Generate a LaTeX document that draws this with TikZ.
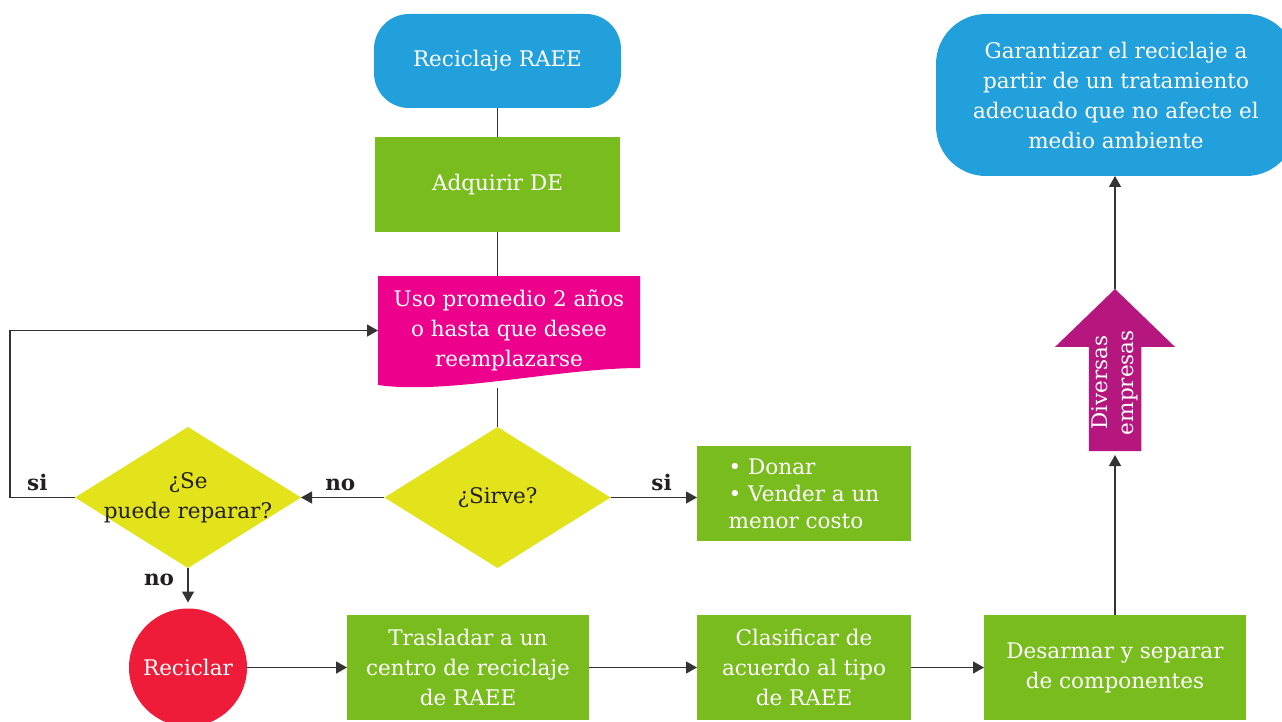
\documentclass[tikz,border=0pt]{standalone}
\usepackage{fontspec}
\setmainfont{DejaVu Serif}
\usepackage{tikz}
\tikzset{
  every node/.style = {
    inner sep = 0pt,
    outer sep = 0pt
  }
}
\usetikzlibrary{
arrows.meta,
backgrounds,
calc,
shapes.arrows,
shapes.geometric
}
\definecolor{raeeblue}{HTML}{22A0DB}
\definecolor{raeegreen}{HTML}{78BC1E}
\definecolor{raeepink}{HTML}{EC008C}
\definecolor{raeeyellow}{HTML}{E3E31C}
\definecolor{raeered}{HTML}{EE1C39}
\definecolor{raeepurple}{HTML}{B5177F}
\definecolor{raeeline}{HTML}{333333}
\definecolor{raeetext}{HTML}{231F20}

\begin{document}
\begin{tikzpicture}[
        x = 1pt,
        y = -1pt,
        every node/.append style = {
          font = \fontsize{21.5}{30}\selectfont,
          align = center,
        },
        start/.style = {
          rounded corners = 35pt,
          fill = raeeblue,
          text = white,
        },
        task/.style = {
          fill = raeegreen,
          text = white,
        },
        decision/.style = {
          diamond,
          fill = raeeyellow,
          text = raeetext,
          minimum width = 226,
          minimum height = 141,
        },
        link/.style = {
          line width = 1.3pt,
          draw = raeeline,
        },
        arrow/.style = {
          link,
          -{Triangle[length=11pt, width=12pt]},
        },
        answer/.style = {
          font = \fontsize{21.5}{25}\selectfont\bfseries,
          text = raeetext,
        },
        ]
        \useasboundingbox (0,0) rectangle (1282,722);
        \node [start, minimum width=247, minimum height=94] (raee) at (497.5,61)
        {Reciclaje RAEE};
        \node [task, minimum width=245, minimum height=95] (adquirir) at (497.5,184.5)
        {Adquirir DE};
        \node [text=white, minimum width=262, minimum height=109] (uso) at (509,330.5)
        {Uso promedio 2 años\\o hasta que desee\\reemplazarse};
        \begin{scope}[on background layer]
          \fill [raeepink] (uso.north west) -- (uso.north east)
          -- ($(uso.south east)+(0,-17)$) .. controls +(-80,0) and +(70,10) .. (uso.south west)
          -- cycle;
        \end{scope}
        \coordinate (uso-bottom) at (497.5,388);
        \node [decision] (sirve) at (497.5,497.5) {¿Sirve?};
        \node [decision, label={[text=raeetext]center:{¿Se\\puede reparar?}}] (reparar) at (188,497.5) {};
        \node [task, align=left, minimum width=214, minimum height=95,
          font=\fontsize{21.5}{27}\selectfont] (donar) at (804,493.5)
        {• Donar\\• Vender a un\\menor costo};
        \node [circle, fill=raeered, text=white, minimum size=118] (reciclar) at (188,667.5)
        {Reciclar};
        \node [task, minimum width=242, minimum height=105] (trasladar) at (468,667.5)
        {Trasladar a un\\centro de reciclaje\\de RAEE};
        \node [task, minimum width=214, minimum height=105] (clasificar) at (804,667.5)
        {Clasificar de\\acuerdo al tipo\\de RAEE};
        \node [task, minimum width=262, minimum height=105] (desarmar) at (1115,667.5)
        {Desarmar y separar\\de componentes};
        \node [single arrow, rotate=90, anchor=tip, fill=raeepurple, text=white,
          minimum height=162, minimum width=120,
          single arrow head extend=30, single arrow tip angle=92,
          font=\fontsize{21.5}{26}\selectfont] (diversas) at (1115,289)
        {Diversas\\empresas};
        \node [start, rounded corners=50pt, minimum width=360, minimum height=162] (garantizar) at (1116,95)
        {Garantizar el reciclaje a\\partir de un tratamiento\\adecuado que no afecte el\\medio ambiente};

        \draw [link] (raee) -- (adquirir);
        \draw [link] (adquirir.south) -- (adquirir.south |- uso.north);
        \draw [link] (uso-bottom) -- (sirve);
        \draw [arrow] (sirve) -- node [answer, pos=0.53, above=7pt] {no} (reparar);
        \draw [arrow] (sirve.east) -- node [answer, pos=0.59, above=7pt] {si} (sirve.east -| donar.west);
        \draw [arrow] (reparar.west) -- node [answer, pos=0.58, above=7pt] {si} ++(-65,0)
        |- (uso.west);
        \draw [arrow, shorten >=6pt] (reparar) -- node [answer, pos=0.3, left=14pt] {no} (reciclar);
        \draw [arrow] (reciclar) -- (trasladar);
        \draw [arrow] (trasladar) -- (clasificar);
        \draw [arrow] (clasificar) -- (desarmar);
        \draw [arrow, shorten >=4pt] (desarmar) -- (diversas.tail);
        \draw [arrow] (diversas.tip) -- (diversas.tip |- garantizar.south);
      \end{tikzpicture}
\end{document}
